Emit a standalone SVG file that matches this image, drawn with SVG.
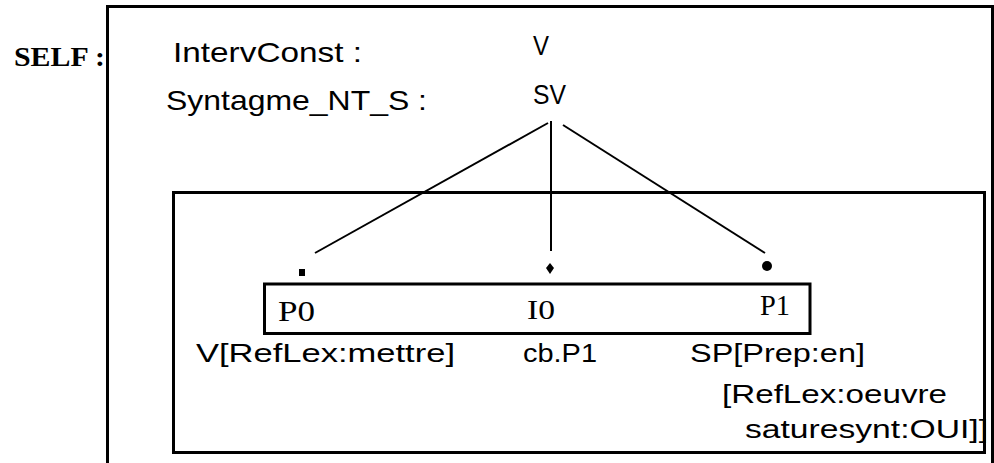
<svg xmlns="http://www.w3.org/2000/svg" width="994" height="463" viewBox="0 0 994 463">
<style>
.box{fill:none;stroke:#000;stroke-width:3}
.ln{stroke:#000;stroke-width:2;fill:none}
.sans{font-family:"Liberation Sans",Arial,sans-serif;fill:#000}
.serif{font-family:"Liberation Serif","Times New Roman",serif;fill:#000}
.dot{fill:#000}
</style>
<rect width="994" height="463" fill="#fff"/>
<g id="self">
<text class="serif" x="14" y="66" font-size="27" font-weight="bold" textLength="91" lengthAdjust="spacingAndGlyphs">SELF :</text>
<path class="box" d="M107.5 463 V6.5 H992.5 V463"/>
</g>
<g id="labels">
<text class="sans" x="173" y="62" font-size="28" textLength="189" lengthAdjust="spacingAndGlyphs">IntervConst :</text>
<text class="sans" x="166" y="110" font-size="28" textLength="261" lengthAdjust="spacingAndGlyphs">Syntagme_NT_S :</text>
<text class="sans" x="533" y="55" font-size="28" textLength="16" lengthAdjust="spacingAndGlyphs">V</text>
<text class="sans" x="533" y="104" font-size="28" textLength="33" lengthAdjust="spacingAndGlyphs">SV</text>
</g>
<g id="frame">
<rect class="box" x="173.5" y="192.5" width="811" height="260"/>
</g>
<g id="connectors">
<line class="ln" x1="548" y1="123" x2="315" y2="253"/>
<line class="ln" x1="551" y1="121" x2="551" y2="251" stroke-width="3"/>
<line class="ln" x1="563" y1="125" x2="765" y2="253"/>
<rect class="dot" x="299" y="269" width="6" height="7"/>
<path class="dot" d="M550 263 L554 268 L550 274 L546 268 Z"/>
<circle class="dot" cx="767" cy="266" r="5"/>
</g>
<g id="positions">
<rect class="box" x="264.5" y="284" width="545.5" height="49.5"/>
<text class="serif" x="278" y="321" font-size="29" textLength="37" lengthAdjust="spacingAndGlyphs">P0</text>
<text class="serif" x="527" y="319" font-size="27" textLength="28" lengthAdjust="spacingAndGlyphs">I0</text>
<text class="serif" x="760" y="315" font-size="29" textLength="30" lengthAdjust="spacingAndGlyphs">P1</text>
</g>
<g id="p0-label">
<text class="sans" x="196" y="362" font-size="25" textLength="259" lengthAdjust="spacingAndGlyphs">V[RefLex:mettre]</text>
</g>
<g id="i0-label">
<text class="sans" x="523" y="362" font-size="25" textLength="74" lengthAdjust="spacingAndGlyphs">cb.P1</text>
</g>
<g id="p1-label">
<text class="sans" x="690" y="362" font-size="25" textLength="175" lengthAdjust="spacingAndGlyphs">SP[Prep:en]</text>
<text class="sans" x="722" y="403" font-size="25" textLength="225" lengthAdjust="spacingAndGlyphs">[RefLex:oeuvre</text>
<text class="sans" x="745" y="438" font-size="25" textLength="243" lengthAdjust="spacingAndGlyphs">saturesynt:OUI]]</text>
</g>
</svg>
